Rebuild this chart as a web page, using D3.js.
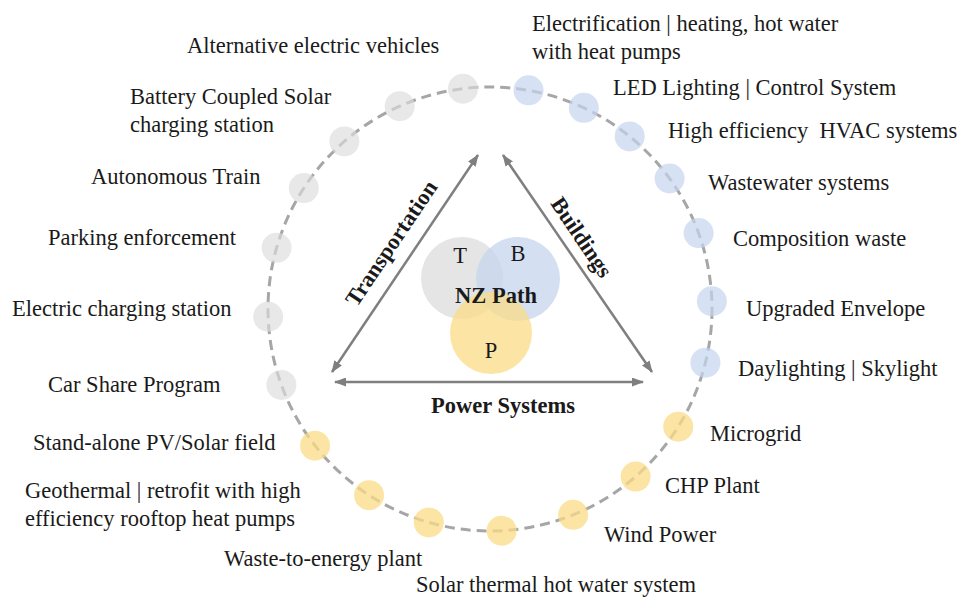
<!DOCTYPE html>
<html>
<head>
<meta charset="utf-8">
<script src="https://cdn.jsdelivr.net/npm/d3@7"></script>
<style>
  body { margin: 0; background: #fff; }
  svg text { font-family: "Liberation Serif", "Times New Roman", serif; fill: #1a1a1a; }
</style>
</head>
<body>
<svg id="chart"></svg>
<script>
// ring items, angle in degrees clockwise from the top of the ring
var transportAngles = [-7, -24, -41, -57, -74, -92, -110];
var buildingAngles = [10, 25, 39, 54, 70, 88, 104];
var powerAngles = [122, 139, 158, 177, 196, 213, 232];

var transportLabels = [
    ["Alternative electric vehicles"],
    ["Battery Coupled Solar", "charging station"],
    ["Autonomous Train"],
    ["Parking enforcement"],
    ["Electric charging station"],
    ["Car Share Program"]
];
var buildingLabels = [
    ["Electrification | heating, hot water", "with heat pumps"],
    ["LED Lighting | Control System"],
    ["High efficiency  HVAC systems"],
    ["Wastewater systems"],
    ["Composition waste"],
    ["Upgraded Envelope"],
    ["Daylighting | Skylight"]
];
var powerLabels = [
    ["Microgrid"],
    ["CHP Plant"],
    ["Wind Power"],
    ["Solar thermal hot water system"],
    ["Waste-to-energy plant"],
    ["Geothermal | retrofit with high", "efficiency rooftop heat pumps"],
    ["Stand-alone PV/Solar field"]
];

var vennSets = ["T", "B", "P"];
var sectorNames = ["Transportation", "Buildings", "Power Systems"];
var centerLabel = "NZ Path";

// layout (left x / middle y of the first text line)
var transportLabelPos = [[187, 45], [130, 96], [91, 176], [48, 237], [12, 308], [48, 384]];
var buildingLabelPos = [[532, 23], [613, 87], [668, 130], [708, 182], [733, 238], [746, 308], [738, 368]];
var powerLabelPos = [[710, 433], [665, 485], [604, 534], [416, 584], [224, 558], [25, 490], [33, 442]];

var W = 957, H = 598;
var cx = 490, cy = 309, R = 222;
var lineH = 28;

var colors = { T: "#dcdcdc", B: "#c5d4ee", P: "#fbdc86" };

var svg = d3.select("#chart").attr("width", W).attr("height", H);

var angle = d3.scaleLinear().domain([0, 360]).range([0, 2 * Math.PI]);
function px(a, r) { return cx + r * Math.sin(angle(a)); }
function py(a, r) { return cy - r * Math.cos(angle(a)); }

// dashed ring
svg.append("circle")
    .attr("cx", cx).attr("cy", cy).attr("r", R)
    .attr("fill", "none")
    .attr("stroke", "#a6a6a6")
    .attr("stroke-width", 3)
    .attr("stroke-dasharray", "10,6");

// ring dots
var groups = [
    { key: "T", angles: transportAngles, op: 0.65 },
    { key: "B", angles: buildingAngles, op: 0.7 },
    { key: "P", angles: powerAngles, op: 0.75 }
];
groups.forEach(function(g) {
    svg.append("g").selectAll("circle").data(g.angles).enter()
        .append("circle")
        .attr("cx", function(d) { return px(d, R); })
        .attr("cy", function(d) { return py(d, R); })
        .attr("r", 15)
        .attr("fill", colors[g.key])
        .attr("fill-opacity", g.op);
});

// ring labels
function drawLabels(labels, pos) {
    var t = svg.append("g").selectAll("text").data(labels).enter()
        .append("text")
        .attr("font-size", "22.5px")
        .attr("x", function(d, i) { return pos[i][0]; })
        .attr("y", function(d, i) { return pos[i][1]; });
    t.selectAll("tspan").data(function(d, i) { return d.map(function(s) { return { s: s, x: pos[i][0] }; }); })
        .enter().append("tspan")
        .attr("x", function(d) { return d.x; })
        .attr("dy", function(d, j) { return j == 0 ? "0.35em" : lineH; })
        .attr("xml:space", "preserve")
        .text(function(d) { return d.s; });
}
drawLabels(transportLabels, transportLabelPos);
drawLabels(buildingLabels, buildingLabelPos);
drawLabels(powerLabels, powerLabelPos);

// venn in the middle
var venn = [
    { k: "T", x: 462, y: 278, r: 41, ty: 255 },
    { k: "B", x: 518, y: 279, r: 42, ty: 253 },
    { k: "P", x: 491, y: 333, r: 41, ty: 350 }
];
svg.append("g").selectAll("circle").data(venn).enter()
    .append("circle")
    .attr("cx", function(d) { return d.x; })
    .attr("cy", function(d) { return d.y; })
    .attr("r", function(d) { return d.r; })
    .attr("fill", function(d) { return colors[d.k]; })
    .attr("fill-opacity", 0.75);
svg.append("g").selectAll("text").data(venn).enter()
    .append("text")
    .attr("x", function(d) { return d.x - (d.k == "T" ? 2 : 0); })
    .attr("y", function(d) { return d.ty; })
    .attr("dy", "0.35em")
    .attr("text-anchor", "middle")
    .attr("font-size", "22.5px")
    .text(function(d, i) { return vennSets[i]; });
svg.append("text")
    .attr("x", 496).attr("y", 295).attr("dy", "0.35em")
    .attr("text-anchor", "middle")
    .attr("font-size", "22.5px").attr("font-weight", "bold")
    .text(centerLabel);

// double-headed arrows of the triangle
var defs = svg.append("defs");
defs.append("marker")
    .attr("id", "head")
    .attr("viewBox", "0 0 12 9")
    .attr("refX", 11).attr("refY", 4.5)
    .attr("markerWidth", 12).attr("markerHeight", 9)
    .attr("markerUnits", "userSpaceOnUse")
    .attr("orient", "auto-start-reverse")
    .append("path")
    .attr("d", "M0,0L12,4.5L0,9Z")
    .attr("fill", "#7f7f7f");

var arrows = [
    [[332, 372], [478, 155]],
    [[503, 155], [652, 372]],
    [[335, 382], [643, 382]]
];
svg.append("g").selectAll("line").data(arrows).enter()
    .append("line")
    .attr("x1", function(d) { return d[0][0]; })
    .attr("y1", function(d) { return d[0][1]; })
    .attr("x2", function(d) { return d[1][0]; })
    .attr("y2", function(d) { return d[1][1]; })
    .attr("stroke", "#7f7f7f")
    .attr("stroke-width", 2.5)
    .attr("marker-start", "url(#head)")
    .attr("marker-end", "url(#head)");

// sector names along the arrows
var sectorPos = [[391, 243, -56], [582, 237, 56], [503, 405, 0]];
svg.append("g").selectAll("text").data(sectorNames).enter()
    .append("text")
    .attr("transform", function(d, i) {
        return "translate(" + sectorPos[i][0] + "," + sectorPos[i][1] + ") rotate(" + sectorPos[i][2] + ")";
    })
    .attr("dy", "0.35em")
    .attr("text-anchor", "middle")
    .attr("font-size", "22.5px")
    .attr("font-weight", "bold")
    .text(function(d) { return d; });
</script>
</body>
</html>
